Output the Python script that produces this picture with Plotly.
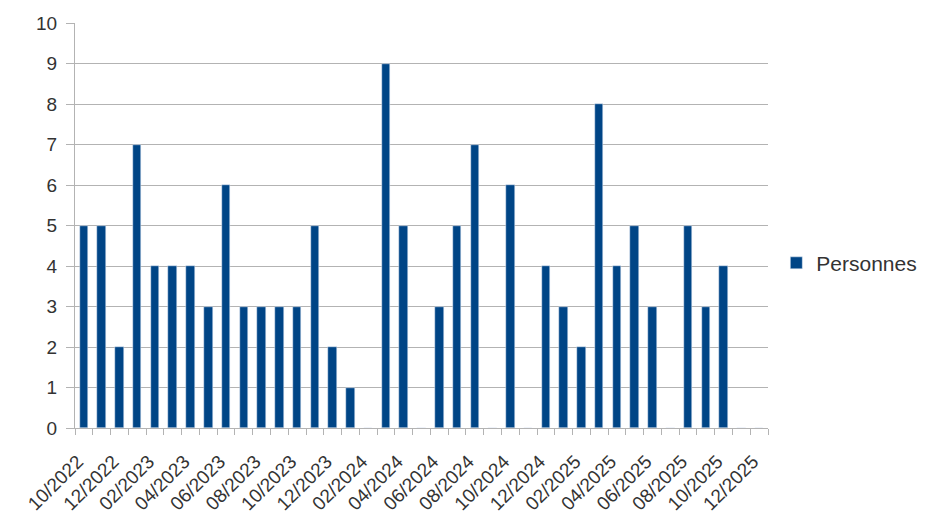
import plotly.graph_objects as go

mois = ["10/2022", "11/2022", "12/2022",
        "01/2023", "02/2023", "03/2023", "04/2023", "05/2023", "06/2023",
        "07/2023", "08/2023", "09/2023", "10/2023", "11/2023", "12/2023",
        "01/2024", "02/2024", "03/2024", "04/2024", "05/2024", "06/2024",
        "07/2024", "08/2024", "09/2024", "10/2024", "11/2024", "12/2024",
        "01/2025", "02/2025", "03/2025", "04/2025", "05/2025", "06/2025",
        "07/2025", "08/2025", "09/2025", "10/2025", "11/2025", "12/2025"]
personnes = [5, 5, 2, 7, 4, 4, 4, 3, 6, 3, 3, 3, 3, 5, 2, 1, 0, 9, 5, 0,
             3, 5, 7, 0, 6, 0, 4, 3, 2, 8, 4, 5, 3, 0, 5, 3, 4, 0, 0]
nom_serie = "Personnes"

positions = list(range(len(mois)))
gris = "#b3b3b3"
texte = "#333333"

fig = go.Figure()
fig.add_trace(go.Bar(x=positions, y=personnes, name=nom_serie,
                     marker_color="#004586", width=0.48,
                     showlegend=True))

# la page a une marge de 8 px autour du graphique
fig.update_layout(
    width=935, height=526,
    margin=dict(l=67, r=175, t=15, b=106, autoexpand=False),
    plot_bgcolor="white", paper_bgcolor="white",
    font=dict(family="Liberation Sans", size=19, color=texte),
    showlegend=True,
    legend=dict(x=1.012, y=0.407, xanchor="left", yanchor="middle",
                font=dict(size=21), itemwidth=30),
    bargap=0,
)

# étiquettes tournées : ancrées un peu à gauche du centre de la barre
fig.update_xaxes(
    range=[-0.5, len(mois) - 0.5],
    tickmode="array", tickvals=[p - 0.35 for p in positions[::2]],
    ticktext=mois[::2],
    tickangle=-45, ticks="", showgrid=False, automargin=False,
    ticklabelstandoff=14,
    showline=True, linecolor=gris, linewidth=1,
    minor=dict(tickmode="linear", tick0=-0.5, dtick=1, ticks="outside",
               ticklen=6, tickcolor=gris, showgrid=False),
    zeroline=False,
)
fig.update_yaxes(
    range=[0, 10], dtick=1, automargin=False,
    showgrid=True, gridcolor=gris, gridwidth=1,
    showline=True, linecolor=gris, linewidth=1,
    ticks="outside", ticklen=8, tickcolor=gris, ticklabelstandoff=5,
    zeroline=False,
)

fig.write_html("out.html")
